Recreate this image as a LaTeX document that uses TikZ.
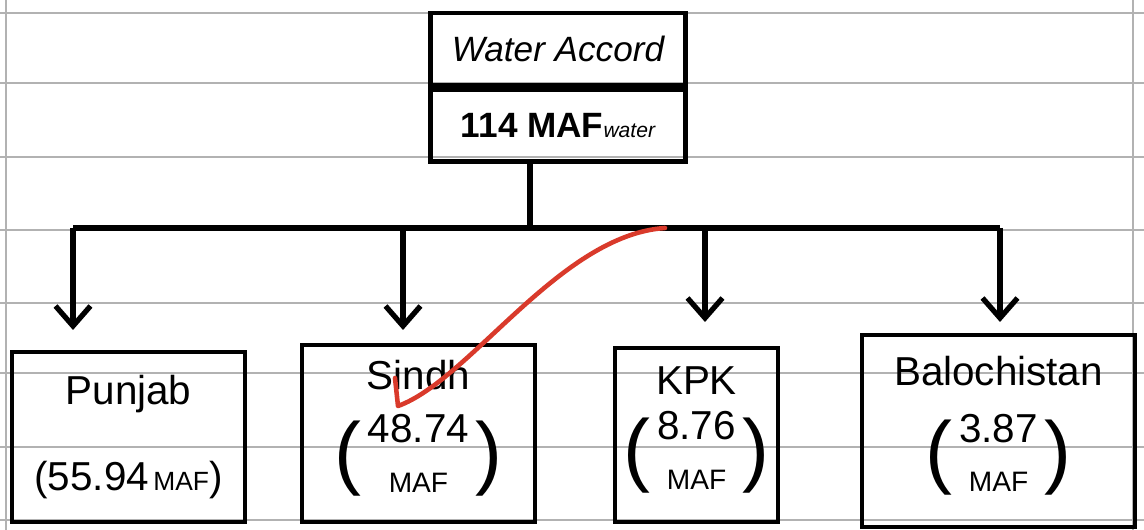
\documentclass[tikz,border=0pt]{standalone}
\usepackage{fontspec}
\setmainfont{Liberation Sans}
\usetikzlibrary{arrows.meta, positioning}
\newcommand{\bigpar}[1]{\raisebox{-6pt}{\fontsize{46}{46}\selectfont #1}}
\newcommand{\mafval}[1]{\bigpar{(}\,\begin{tabular}{@{}c@{}}#1\\[1pt]{\fontsize{16}{18}\selectfont MAF}\end{tabular}\,\bigpar{)}}
\definecolor{pen}{HTML}{D93A2B}

\begin{document}
\begin{tikzpicture}[
    x=0.02cm, y=-0.02cm,
    paper/.style ={gray!60, line width=0.8pt},
    head/.style  ={draw, line width=2.8pt, minimum width=5.1cm, minimum height=1.44cm,
                   inner sep=2pt, font=\fontsize{20}{24}\selectfont},
    prov/.style  ={draw, line width=2.8pt, align=center, inner sep=3pt,
                   font=\fontsize{23}{27}\selectfont},
    link/.style  ={line width=3pt},
    flow/.style  ={-{Straight Barb[length=4mm, width=7mm]}, line width=3pt},
]
\useasboundingbox (0,0) rectangle (1144,530);
% lined paper
\foreach \y in {13,83,157,230,303,373,447,520}
  \draw[paper] (0,\y) -- (1144,\y);
\draw[paper] (6,0) -- (6,530);
\draw[paper] (1133,0) -- (1133,530);

\node[head] (accord) at (558,49) {\itshape Water Accord};
\node[head, below=0pt of accord] (total) {\textbf{114 MAF}{\fontsize{12}{14}\selectfont\itshape water}};

\node[prov, minimum width=4.66cm, minimum height=3.4cm]  (punjab) at (128.5,437)
  {Punjab\\[22pt](55.94{\fontsize{15}{18}\selectfont\,MAF})};
\node[prov, minimum width=4.66cm, minimum height=3.54cm] (sindh)  at (418.5,433.5)
  {Sindh\\[10pt]\mafval{48.74}};
\node[prov, minimum width=3.26cm, minimum height=3.48cm] (kpk)    at (696.5,435)
  {KPK\\[6pt]\mafval{8.76}};
\node[prov, minimum width=5.46cm, minimum height=3.84cm] (baloch) at (998.5,431)
  {Balochistan\\[12pt]\mafval{3.87}};

\coordinate (hub)  at (530,228);
\coordinate (tipP) at (73,330);
\coordinate (tipS) at (403,330);
\coordinate (tipK) at (705,322);
\coordinate (tipB) at (1000,322);

\draw[link] (total.south -| hub) -- (hub);
\draw[link] (tipP |- hub) -- (tipB |- hub);
\draw[flow] (tipP |- hub) -- (tipP);
\draw[flow] (tipS |- hub) -- (tipS);
\draw[flow] (tipK |- hub) -- (tipK);
\draw[flow] (tipB |- hub) -- (tipB);

% red pen stroke
\draw[pen, line width=2.6pt, line cap=round, line join=round]
  (395,378) -- (398,406) .. controls (470,380) and (560,235) .. (665,228);
\end{tikzpicture}
\end{document}
